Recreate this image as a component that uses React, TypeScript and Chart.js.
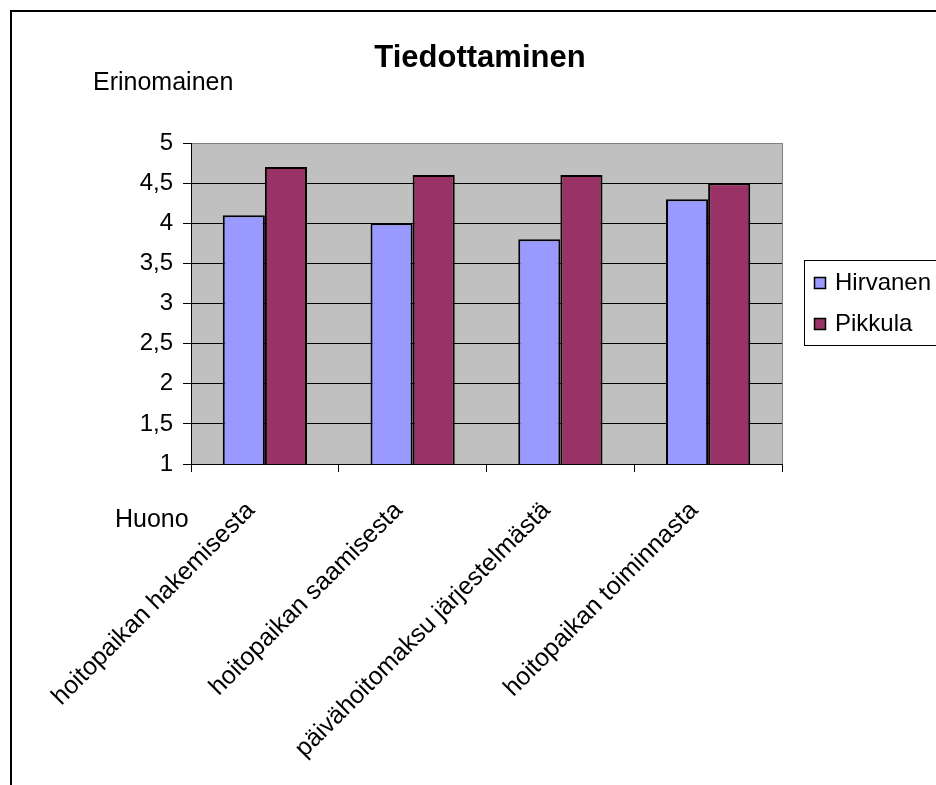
import React, { useEffect, useRef } from "react";
import { Chart, registerables } from "chart.js";

Chart.register(...registerables);

const categories = [
  "hoitopaikan hakemisesta",
  "hoitopaikan saamisesta",
  "päivähoitomaksu järjestelmästä",
  "hoitopaikan toiminnasta",
];
const seriesNames = ["Hirvanen", "Pikkula"];
const hirvanenValues = [4.1, 4.0, 3.8, 4.3];
const pikkulaValues = [4.7, 4.6, 4.6, 4.5];
const seriesColors = ["#9999FF", "#993366"];
const yMin = 1;
const yMax = 5;
const yStep = 0.5;
const chartTitle = "Tiedottaminen";
const topLabel = "Erinomainen";
const bottomLabel = "Huono";

const FONT = '"Liberation Sans", Arial, sans-serif';

const decorPlugin = {
  id: "decor",
  beforeDraw(chart: any) {
    const { ctx, chartArea: a } = chart;
    ctx.save();
    ctx.fillStyle = "#ffffff";
    ctx.fillRect(0, 0, chart.width, chart.height);
    ctx.fillStyle = "#C0C0C0";
    ctx.fillRect(a.left, a.top, a.right - a.left, a.bottom - a.top);
    ctx.fillStyle = "#000000";
    ctx.fillRect(10, 10, 2, chart.height);
    ctx.fillRect(10, 10, chart.width, 2);
    ctx.restore();
  },
  afterDraw(chart: any) {
    const { ctx, chartArea: a } = chart;
    ctx.save();
    // right border of plot area
    ctx.strokeStyle = "#808080";
    ctx.lineWidth = 1;
    ctx.beginPath();
    ctx.moveTo(Math.round(a.right) + 0.5, a.top);
    ctx.lineTo(Math.round(a.right) + 0.5, a.bottom);
    ctx.stroke();

    ctx.fillStyle = "#000";
    ctx.textBaseline = "alphabetic";
    ctx.textAlign = "center";
    ctx.font = `bold 31px ${FONT}`;
    ctx.fillText(chartTitle, 480, 67);

    ctx.textAlign = "left";
    ctx.font = `25px ${FONT}`;
    ctx.fillText(topLabel, 93, 90);
    ctx.fillText(bottomLabel, 115, 527);

    // legend
    ctx.strokeStyle = "#000";
    ctx.lineWidth = 1;
    ctx.strokeRect(804.5, 260.5, 200, 85);
    ctx.font = `24px ${FONT}`;
    chart.data.datasets.forEach((ds: any, i: number) => {
      const y = 277 + i * 41;
      ctx.fillStyle = ds.backgroundColor;
      ctx.fillRect(814, y, 12, 12);
      ctx.strokeStyle = "#000";
      ctx.lineWidth = 1.5;
      ctx.strokeRect(814.5, y + 0.5, 11, 11);
      ctx.fillStyle = "#000";
      ctx.fillText(ds.label, 835, y + 13);
    });
    ctx.restore();
  },
};

export default function App() {
  const canvasRef = useRef<HTMLCanvasElement | null>(null);

  useEffect(() => {
    if (!canvasRef.current) return;
    const chart = new Chart(canvasRef.current, {
      type: "bar",
      data: {
        labels: categories,
        datasets: [
          {
            label: seriesNames[0],
            data: hirvanenValues,
            backgroundColor: seriesColors[0],
            borderColor: "#000",
            borderWidth: 2,
            categoryPercentage: 0.57,
            barPercentage: 1.0,
          },
          {
            label: seriesNames[1],
            data: pikkulaValues,
            backgroundColor: seriesColors[1],
            borderColor: "#000",
            borderWidth: 2,
            categoryPercentage: 0.57,
            barPercentage: 1.0,
          },
        ],
      },
      options: {
        responsive: false,
        animation: false,
        devicePixelRatio: 1,
        layout: { padding: { top: 143, left: 0, right: 154, bottom: 0 } },
        plugins: {
          legend: { display: false },
          title: { display: false },
          tooltip: { enabled: false },
        },
        scales: {
          x: {
            offset: true,
            grid: {
              display: true,
              drawOnChartArea: false,
              drawTicks: true,
              tickLength: 8,
              color: "#000",
            },
            border: { color: "#000", width: 1 },
            ticks: {
              color: "#000",
              font: { family: FONT, size: 25 },
              maxRotation: 45,
              minRotation: 45,
              autoSkip: false,
              padding: 24,
              labelOffset: -14,
            },
            afterFit(scale: any) {
              scale.height = 321;
            },
          },
          y: {
            min: yMin,
            max: yMax,
            grid: {
              color: (c: any) => (c.tick && c.tick.value === yMax ? "#808080" : "#000"),
              tickColor: "#000",
              tickLength: 8,
              lineWidth: 1,
            },
            border: { color: "#000", width: 1 },
            ticks: {
              stepSize: yStep,
              color: "#000",
              font: { family: FONT, size: 24 },
              padding: 10,
              callback: (v: any) => String(v).replace(".", ","),
            },
            afterFit(scale: any) {
              scale.width = 191;
            },
          },
        },
      },
      plugins: [decorPlugin],
    } as any);
    return () => chart.destroy();
  }, []);

  return (
    <div style={{ position: "absolute", left: 0, top: 0, width: 936, height: 785 }}>
      <canvas ref={canvasRef} width={936} height={785} />
    </div>
  );
}
